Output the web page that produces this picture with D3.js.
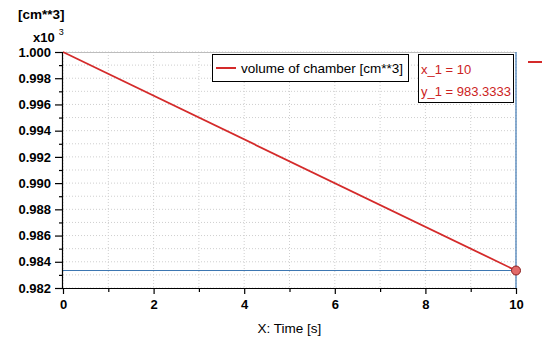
<!DOCTYPE html>
<html>
<head>
<meta charset="utf-8">
<script src="https://cdn.jsdelivr.net/npm/d3@7"></script>
<style>
  body { margin: 0; background: #fff; }
  text { font-family: "Liberation Sans", Arial, sans-serif; }
</style>
</head>
<body>
<svg id="chart"></svg>
<script>
// dados
var times = [0, 10];
var volume = [1.000, 0.9833333];   // x10^3 cm**3
var cursorX = 10;
var cursorY = 0.9833333;
var seriesName = "volume of chamber [cm**3]";
var xTicks = [0, 2, 4, 6, 8, 10];
var yTicks = [0.982, 0.984, 0.986, 0.988, 0.990, 0.992, 0.994, 0.996, 0.998, 1.000];

var margin = {top: 52, right: 26, bottom: 52, left: 63},
    W = 542, H = 340,
    width = W - margin.left - margin.right,
    height = H - margin.top - margin.bottom;

var svg = d3.select("#chart").attr("width", W).attr("height", H);
var g = svg.append("g").attr("transform", "translate(" + margin.left + "," + margin.top + ")");

var x = d3.scaleLinear().domain([0, 10]).range([0, width]);
var y = d3.scaleLinear().domain([0.982, 1.000]).range([height, 0]);

// grade pontilhada (major + minor)
var xGrid = d3.range(0, 11, 1);
var yGrid = d3.range(0, 19).map(function(i) { return 0.982 + i * 0.001; });

g.selectAll(".vgrid").data(xGrid).enter().append("line")
  .attr("x1", function(d) { return x(d); }).attr("x2", function(d) { return x(d); })
  .attr("y1", 0).attr("y2", height)
  .attr("stroke", "#cfcfcf").attr("stroke-dasharray", "1,2");

g.selectAll(".hgrid").data(yGrid).enter().append("line")
  .attr("x1", 0).attr("x2", width)
  .attr("y1", function(d) { return y(d); }).attr("y2", function(d) { return y(d); })
  .attr("stroke", "#cfcfcf").attr("stroke-dasharray", "1,2");

// borda superior
g.append("line").attr("x1", 0).attr("x2", width).attr("y1", 0.5).attr("y2", 0.5)
  .attr("stroke", "#bdbdbd");

// cursor
g.append("line")
  .attr("x1", 0).attr("x2", x(cursorX))
  .attr("y1", y(cursorY)).attr("y2", y(cursorY))
  .attr("stroke", "#3d77b2").attr("stroke-width", 1.2);
g.append("line")
  .attr("x1", x(cursorX)).attr("x2", x(cursorX))
  .attr("y1", 0).attr("y2", height)
  .attr("stroke", "#3d77b2").attr("stroke-width", 1.2);

// série
var pts = times.map(function(t, i) { return [t, volume[i]]; });
g.append("path").datum(pts)
  .attr("fill", "none").attr("stroke", "#d42a2a").attr("stroke-width", 1.8)
  .attr("d", d3.line().x(function(d) { return x(d[0]); }).y(function(d) { return y(d[1]); }));

g.append("circle")
  .attr("cx", x(cursorX)).attr("cy", y(cursorY)).attr("r", 4.5)
  .attr("fill", "#e26a6a").attr("stroke", "#8a1f1f").attr("stroke-width", 1);

// eixos
var xAxis = g.append("g").attr("transform", "translate(0," + height + ")")
  .call(d3.axisBottom(x).tickValues(xTicks).tickSize(6).tickPadding(6).tickFormat(d3.format("d")));
var xMinor = g.append("g").attr("transform", "translate(0," + height + ")")
  .call(d3.axisBottom(x).tickValues([1, 3, 5, 7, 9]).tickSize(4).tickFormat(""));
xMinor.select(".domain").remove();

var yAxis = g.append("g")
  .call(d3.axisLeft(y).tickValues(yTicks).tickSize(8).tickPadding(4).tickFormat(d3.format(".3f")));
var yMinor = g.append("g")
  .call(d3.axisLeft(y).tickValues(yTicks.slice(0, -1).map(function(d) { return d + 0.001; })).tickSize(4).tickFormat(""));
yMinor.select(".domain").remove();

[xAxis, yAxis].forEach(function(a) {
  a.select(".domain").attr("stroke", "#000").attr("stroke-width", 1.2);
  a.selectAll("text").attr("fill", "#000")
    .style("font-family", "'Liberation Sans', Arial, sans-serif")
    .style("font-size", "13px").style("font-weight", "bold");
});
[xAxis, yAxis, xMinor, yMinor].forEach(function(a) {
  a.selectAll(".tick line").attr("stroke", "#000").attr("stroke-width", 1.2);
});
xAxis.select(".domain").attr("d", "M0,0.5H" + width);
yAxis.select(".domain").attr("d", "M-0.5," + height + "V0");

// rótulos
svg.append("text").attr("x", 18).attr("y", 19)
  .style("font-size", "13.5px").style("font-weight", "bold").text("[cm**3]");
var xt = svg.append("text").attr("x", 33).attr("y", 42)
  .style("font-size", "13px").style("font-weight", "bold");
xt.append("tspan").text("x10");
xt.append("tspan").attr("dx", 4).attr("dy", -7).style("font-size", "9px").style("font-weight", "normal").text("3");

svg.append("text")
  .attr("x", margin.left + width / 2).attr("y", 333)
  .attr("text-anchor", "middle").style("font-size", "13.5px")
  .text("X: Time [s]");

// legenda
var leg = svg.append("g");
leg.append("rect").attr("x", 212.5).attr("y", 54.5).attr("width", 196).attr("height", 27)
  .attr("fill", "#fff").attr("stroke", "#000").attr("stroke-width", 1);
leg.append("line").attr("x1", 216).attr("x2", 236).attr("y1", 68).attr("y2", 68)
  .attr("stroke", "#d42a2a").attr("stroke-width", 2);
leg.append("text").attr("x", 241).attr("y", 73).style("font-size", "13.5px").attr("fill", "#000")
  .text(seriesName);

// caixa do cursor
var box = svg.append("g");
box.append("rect").attr("x", 418.5).attr("y", 54.5).attr("width", 95).attr("height", 48)
  .attr("fill", "#fff").attr("stroke", "#000").attr("stroke-width", 1);
box.append("text").attr("x", 421).attr("y", 74).style("font-size", "13px").attr("fill", "#cc2222")
  .text("x_1 = " + cursorX);
box.append("text").attr("x", 421).attr("y", 96).style("font-size", "13px").attr("fill", "#cc2222")
  .text("y_1 = " + (cursorY * 1000).toFixed(4));

// marcador cortado à direita
svg.append("line").attr("x1", 528).attr("x2", 542).attr("y1", 62).attr("y2", 62)
  .attr("stroke", "#d42a2a").attr("stroke-width", 2);
</script>
</body>
</html>
